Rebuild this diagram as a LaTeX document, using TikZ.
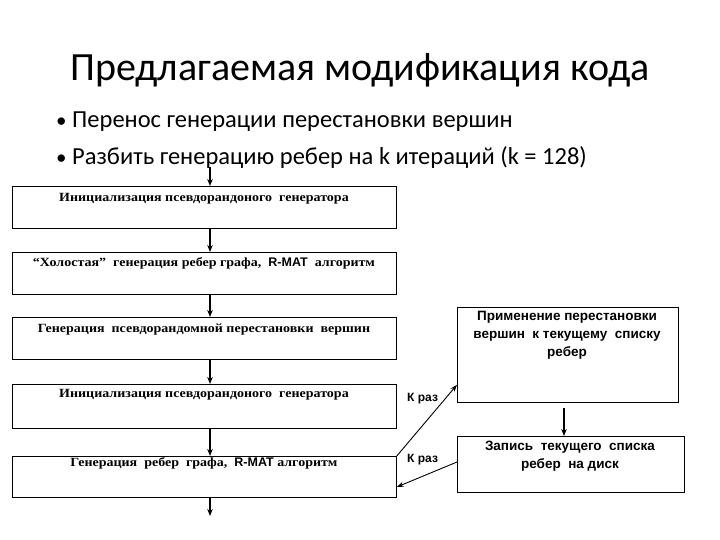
\documentclass[tikz,border=0pt]{standalone}
\usepackage{fontspec}
\setmainfont{Carlito}
\newfontfamily\boxserif[FakeStretch=1.12]{Liberation Serif}
\newfontfamily\boxsans{Liberation Sans}
\usetikzlibrary{arrows.meta}
\begin{document}
\begin{tikzpicture}[x=1pt,y=1pt,
  lbox/.style={draw, line width=0.8pt, minimum width=384pt, anchor=north west, inner sep=0pt},
  rbox/.style={draw, line width=0.8pt, anchor=north west, inner sep=0pt},
  btext/.style={font=\boxserif\bfseries\fontsize{12.5}{14}\selectfont, inner sep=0pt},
  stext/.style={font=\boxsans\bfseries\fontsize{13.5}{18}\selectfont, inner sep=0pt, align=center},
  ktext/.style={font=\boxsans\bfseries\fontsize{12}{14}\selectfont, inner sep=0pt},
  conn/.style={line width=1.2pt, -{Stealth[length=7pt,width=5.5pt]}},
  diag/.style={line width=0.9pt, -{Stealth[length=7pt,width=5pt]}},
  bul/.style={font=\fontsize{24.5}{28}\selectfont, anchor=base west, inner sep=0pt}
]
\useasboundingbox (0,0) rectangle (720,540);
\fill[white] (0,0) rectangle (720,540);
% title and bullets
\node[font=\fontsize{40}{44}\selectfont, anchor=base, inner sep=0pt] (title) at (360,459) {Предлагаемая модификация кода};
\node[bul] (b1) at (56,412) {\makebox[16pt][l]{\fontsize{21}{21}\selectfont •}Перенос генерации перестановки вершин};
\node[bul] (b2) at (56,375) {\makebox[16pt][l]{\fontsize{21}{21}\selectfont •}Разбить генерацию ребер на k итераций (k = 128)};
% left boxes
\node[lbox, minimum height=42pt] (n1) at (12,354) {};
\node[btext] (t1) at (204,341) {Инициализация псевдорандоного\ \ генератора};
\node[lbox, minimum height=42pt] (n2) at (12,288) {};
\node[btext] (t2) at (204,277) {“Холостая”\ \ генерация ребер графа,\ \ {\boxsans R-MAT}\ \ алгоритм};
\node[lbox, minimum height=42pt] (n3) at (12,223) {};
\node[btext] (t3) at (204,210) {Генерация\ \ псевдорандомной перестановки\ \ вершин};
\node[lbox, minimum height=44pt] (n4) at (12,156) {};
\node[btext] (t4) at (204,145) {Инициализация псевдорандоного\ \ генератора};
\node[lbox, minimum height=41pt] (n5) at (12,84) {};
\node[btext] (t5) at (204,77) {Генерация\ \ ребер\ \ графа,\ \ {\boxsans R-MAT} алгоритм};
% right boxes
\node[rbox, minimum width=221pt, minimum height=95pt] (ra) at (457,233) {};
\node[stext, anchor=north] (ta) at (567,229) {Применение перестановки\\вершин\ \ к текущему\ \ списку\\ребер};
\node[rbox, minimum width=227pt, minimum height=56pt] (rb) at (457,104) {};
\node[stext, anchor=north] (tb) at (570,99) {Запись\ \ текущего\ \ списка\\ребер\ \ на диск};
% connectors
\coordinate (top) at (210,373);
\coordinate (bot) at (210,24);
\draw[conn] (top) -- (n1.north -| top);
\draw[conn] (n1.south -| top) -- (n2.north -| top);
\draw[conn] (n2.south -| top) -- (n3.north -| top);
\draw[conn] (n3.south -| top) -- (n4.north -| top);
\draw[conn] (n4.south -| top) -- (n5.north -| top);
\draw[conn] (n5.south -| top) -- (bot);
\coordinate (rx) at (564,0);
\draw[conn] ([yshift=-5pt]ra.south -| rx) -- (rb.north -| rx);
\draw[diag] (n5.north east) -- ([yshift=18pt]ra.south west);
\draw[diag] ([yshift=-26pt]rb.north west) -- ([yshift=-31pt]n5.north east);
\node[ktext, anchor=west] (k1) at (407,141) {К раз};
\node[ktext, anchor=west] (k2) at (407,80) {К раз};
\end{tikzpicture}
\end{document}
